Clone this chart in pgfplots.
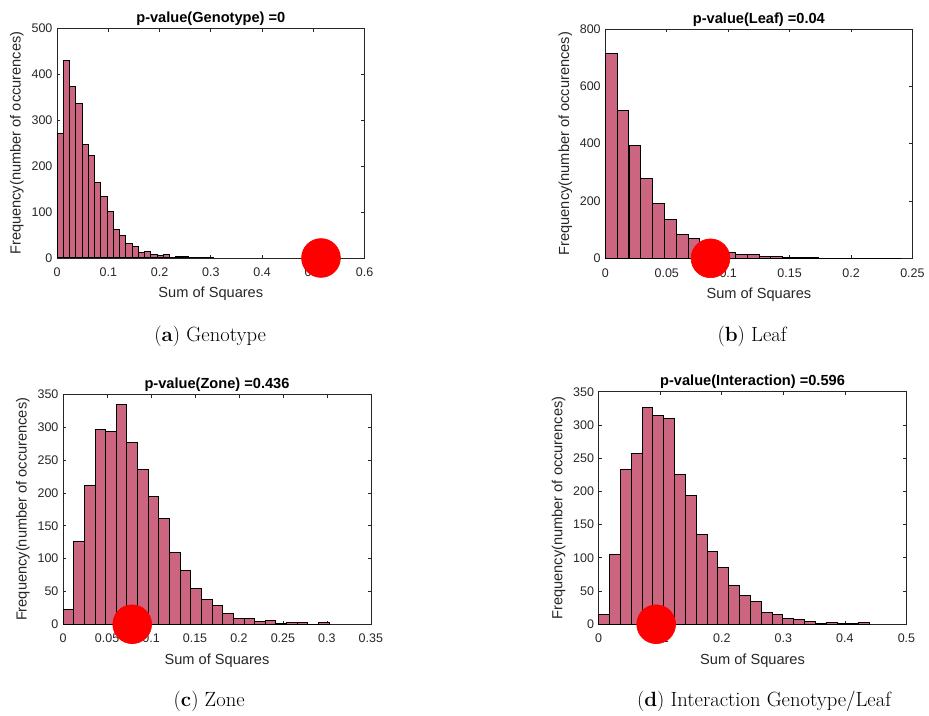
\documentclass[border=0pt]{standalone}
\usepackage{fontspec}
\setsansfont{Liberation Sans}
\usepackage{pgfplots}
\pgfplotsset{compat=1.18}

\definecolor{barfill}{RGB}{204,102,128}
\definecolor{axgray}{RGB}{38,38,38}

\pgfplotsset{
  permhist/.style={
    scale only axis, anchor=south west, clip=false,
    axis line style={axgray, line width=0.5pt},
    every tick/.style={axgray, line width=0.5pt},
    major tick length=2.5pt,
    tick align=inside,
    tick label style={font=\sffamily\fontsize{9.4}{11}\selectfont, text=axgray},
    xticklabel style={yshift=-4pt},
    label style={font=\sffamily\fontsize{11}{13}\selectfont, text=axgray},
    title style={font=\sffamily\bfseries\fontsize{11}{13}\selectfont, inner sep=1pt, yshift=-5pt},
    /pgf/number format/assume math mode=true,
    scaled ticks=false,
    xlabel={Sum of Squares},
    ylabel={Frequency(number of occurences)},
    xlabel style={yshift=-1pt},
    ylabel style={yshift=-1pt},
    ymin=0,
  },
  bars/.style={ybar, bar shift=0pt, draw=black, fill=barfill, line width=0.75pt},
  obs/.style={red, only marks, mark=*, mark size=14.6pt, mark options={fill=red, draw=red, line width=0.5pt}},
}

\begin{document}
\begin{tikzpicture}
\path (0,0) rectangle (696.75pt,538.5pt);

% (a) Genotype
\begin{axis}[permhist, at={(42.98pt,344.25pt)}, width=231.5pt, height=173pt,
  title={p-value(Genotype) =0},
  xmin=0, xmax=0.6, ymax=500,
  xtick={0,0.1,0.2,0.3,0.4,0.5,0.6}, xticklabels={0,0.1,0.2,0.3,0.4,0.5,0.6},
  ytick={0,100,200,300,400,500}]
\addplot[bars, bar width=0.0122] coordinates {
(0.0061,270) (0.0183,429) (0.0305,374) (0.0427,337) (0.0549,246)
(0.0671,222) (0.0793,165) (0.0915,133) (0.1037,101) (0.1159,62)
(0.1281,48) (0.1403,32) (0.1525,24) (0.1647,12) (0.1769,14)
(0.1891,8) (0.2013,5) (0.2135,7) (0.2257,2) (0.2379,4)
(0.2501,4) (0.2623,1) (0.2745,1) (0.2867,1) (0.2989,2)};
\addplot[obs] coordinates {(0.515,0)};
\end{axis}

% (b) Leaf
\begin{axis}[permhist, at={(455.8pt,344pt)}, width=231.2pt, height=172.7pt,
  title={p-value(Leaf) =0.04},
  xmin=0, xmax=0.25, ymax=800,
  xtick={0,0.05,0.1,0.15,0.2,0.25}, xticklabels={0,0.05,0.1,0.15,0.2,0.25},
  ytick={0,200,400,600,800}]
\addplot[bars, bar width=0.00962] coordinates {
(0.0048,716) (0.0144,516) (0.0241,392) (0.0337,278) (0.0433,192)
(0.0529,135) (0.0625,83) (0.0722,69) (0.0818,45) (0.0914,30)
(0.1010,20) (0.1106,15) (0.1203,13) (0.1299,7) (0.1395,6)
(0.1491,3) (0.1587,3) (0.1684,2) (0.1780,1) (0.1876,1)
(0.1972,1) (0.2068,1) (0.2165,1) (0.2261,1) (0.2357,1)};
\addplot[obs] coordinates {(0.0856,0)};
\end{axis}

% (c) Zone
\begin{axis}[permhist, at={(47.5pt,68.5pt)}, width=231.75pt, height=173pt,
  title={p-value(Zone) =0.436},
  xmin=0, xmax=0.35, ymax=350,
  xtick={0,0.05,0.1,0.15,0.2,0.25,0.3,0.35}, xticklabels={0,0.05,0.1,0.15,0.2,0.25,0.3,0.35},
  ytick={0,50,100,150,200,250,300,350}]
\addplot[bars, bar width=0.0121] coordinates {
(0.0061,22) (0.0182,126) (0.0303,211) (0.0424,297) (0.0545,293)
(0.0666,334) (0.0787,277) (0.0908,236) (0.1029,195) (0.1150,161)
(0.1271,110) (0.1392,82) (0.1513,55) (0.1634,37) (0.1755,29)
(0.1876,17) (0.1997,8) (0.2118,8) (0.2239,4) (0.2360,5)
(0.2481,1) (0.2602,2) (0.2723,2) (0.2844,0) (0.2965,2)};
\addplot[obs] coordinates {(0.0786,0)};
\end{axis}

% (d) Interaction Genotype/Leaf
\begin{axis}[permhist, at={(450.75pt,68.5pt)}, width=231.75pt, height=175pt,
  title={p-value(Interaction) =0.596},
  xmin=0, xmax=0.5, ymax=350,
  xtick={0,0.1,0.2,0.3,0.4,0.5}, xticklabels={0,0.1,0.2,0.3,0.4,0.5},
  ytick={0,50,100,150,200,250,300,350}]
\addplot[bars, bar width=0.0176] coordinates {
(0.0088,15) (0.0264,105) (0.0440,233) (0.0616,257) (0.0792,327)
(0.0968,314) (0.1144,310) (0.1320,225) (0.1496,194) (0.1672,135)
(0.1848,110) (0.2024,85) (0.2200,59) (0.2376,43) (0.2552,34)
(0.2728,17) (0.2904,14) (0.3080,8) (0.3256,7) (0.3432,4)
(0.3608,1) (0.3784,2) (0.3960,1) (0.4136,1) (0.4312,2)};
\addplot[obs] coordinates {(0.0934,0)};
\end{axis}

% sub-captions
\begin{scope}[every node/.style={font=\fontsize{15.5}{18}\selectfont, anchor=base, inner sep=0pt}]
\node at (158.25pt,281pt) {(\textbf{a}) Genotype};
\node at (566.25pt,281pt) {(\textbf{b}) Leaf};
\node at (157.5pt,6.5pt) {(\textbf{c}) Zone};
\node at (575.25pt,6.5pt) {(\textbf{d}) Interaction Genotype/Leaf};
\end{scope}
\end{tikzpicture}
\end{document}
